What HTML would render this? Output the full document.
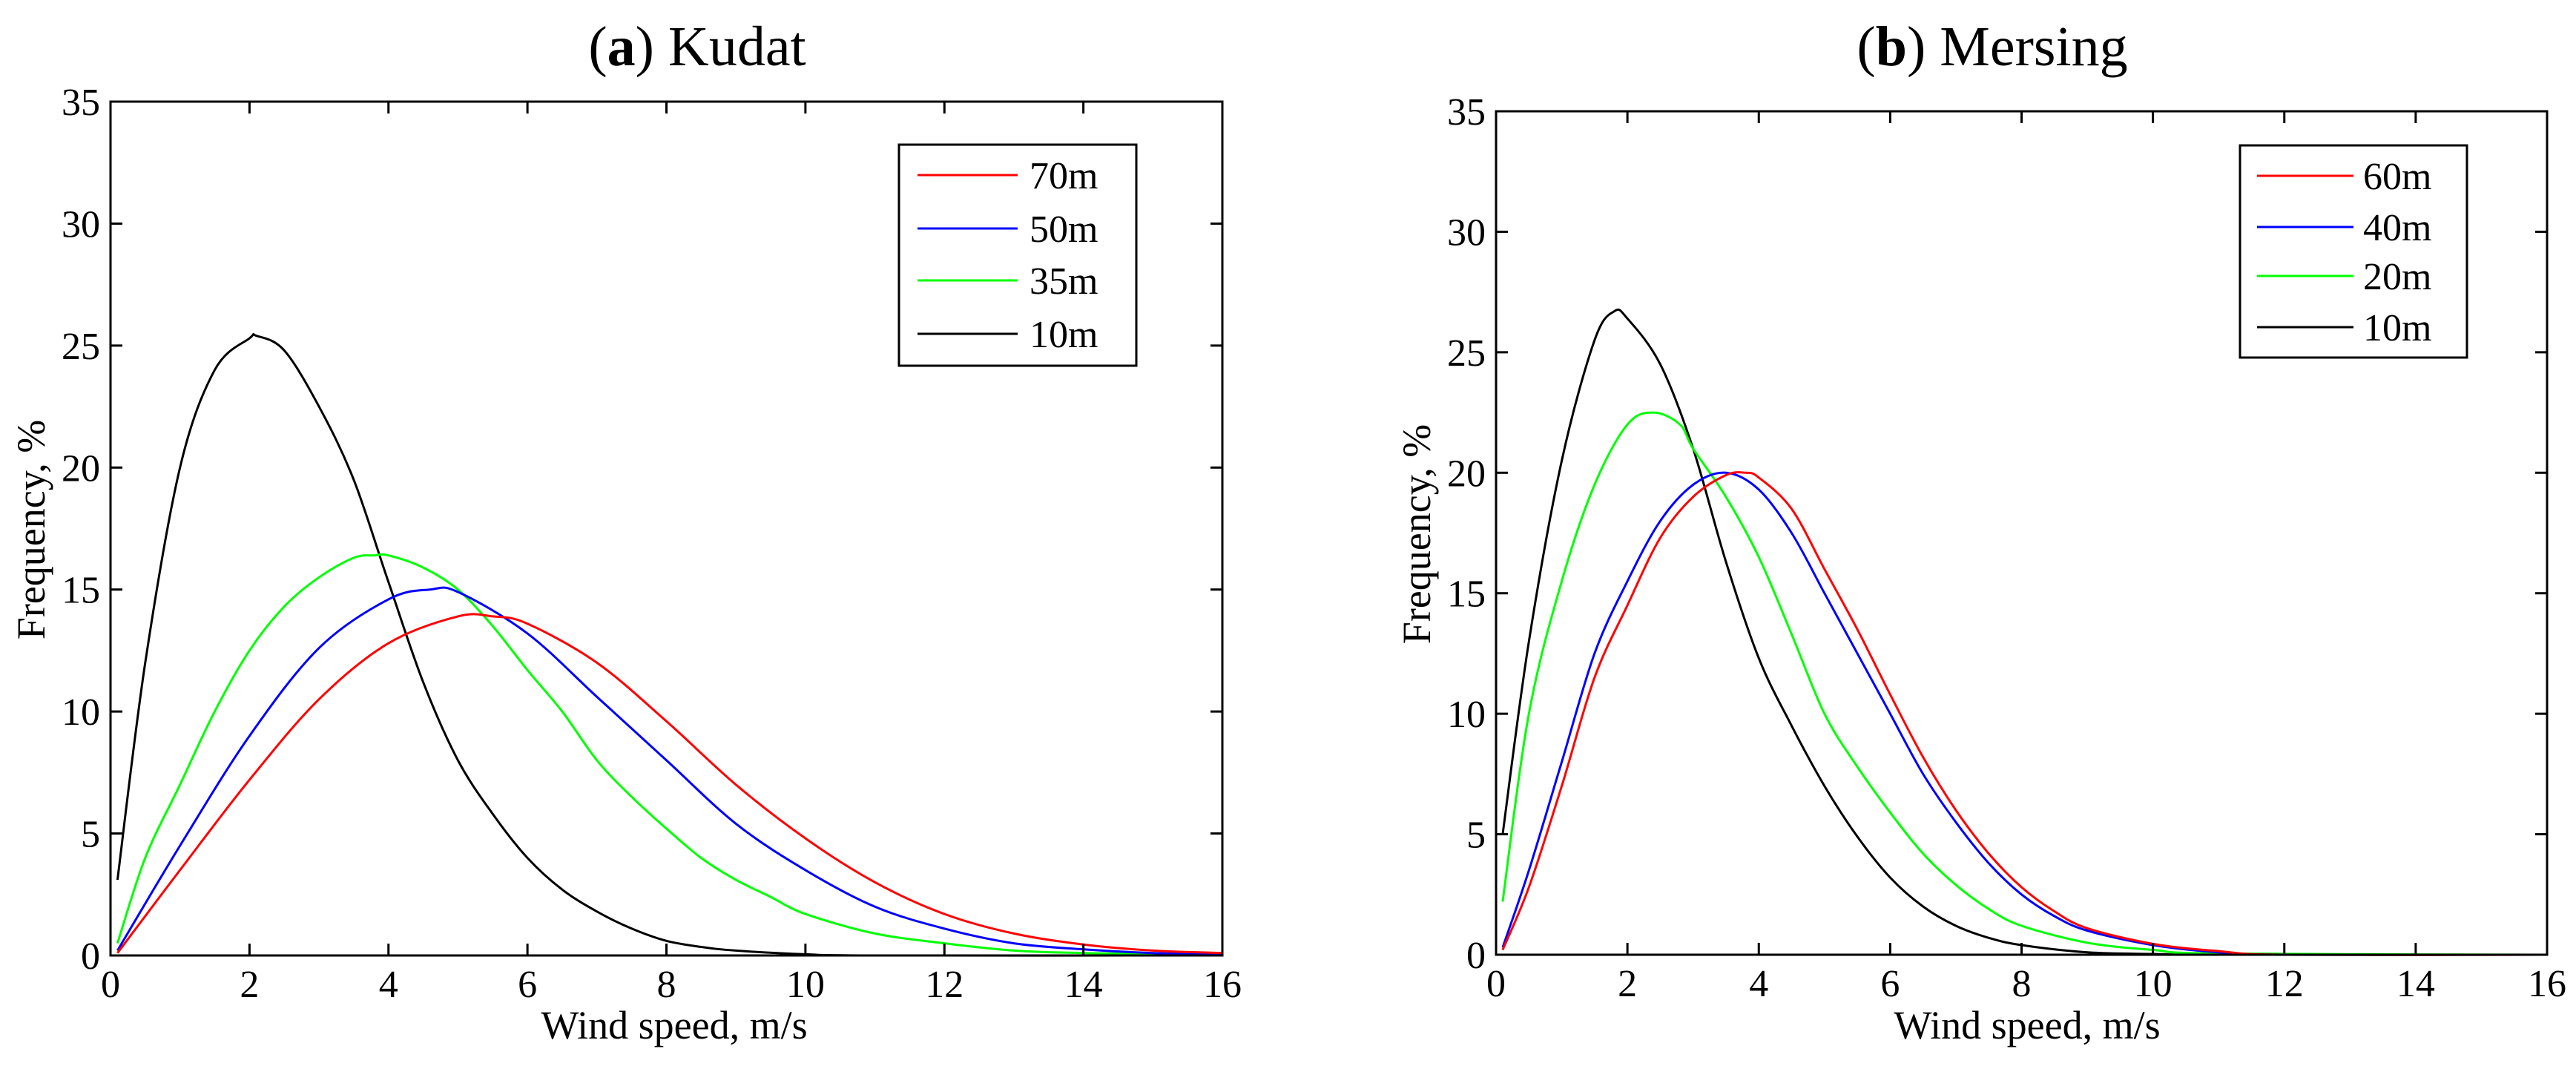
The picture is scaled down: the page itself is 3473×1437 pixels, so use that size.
<!DOCTYPE html>
<html><head><meta charset="utf-8">
<style>
html,body{margin:0;padding:0;background:#fff;}
svg{display:block;}
svg text{font-family:"Liberation Serif",serif;}
</style></head>
<body>
<svg id="fig" width="3473" height="1437" viewBox="0 0 3473 1437"></svg>
<script>
// ---------- Data (Kudat) ----------
const kudatX10 = [0.1,0.5,1,1.5,2,2.1,2.5,3,3.5,4,4.5,5,5.5,6,6.5,7,7.5,8,8.5,9,10,11,16];
const kudatY10 = [3.1,12,20,24,25.3,25.4,24.8,22.5,19.5,15.3,11.2,8,5.8,4,2.7,1.8,1.1,0.6,0.35,0.2,0.05,0,0];
const kudatX35 = [0.1,0.5,1,1.5,2,2.5,3,3.5,3.8,4,4.5,5,5.5,6,6.5,7,7.5,8,8.5,9,9.5,10,11,12,13,14,15,16];
const kudatY35 = [0.5,4,7,10,12.5,14.3,15.5,16.3,16.4,16.4,15.9,15,13.5,11.7,10,8,6.5,5.2,4,3.1,2.4,1.7,0.9,0.5,0.2,0.1,0.05,0];
const kudatX50 = [0.1,1,2,3,4,4.6,5,6,7,8,9,10,11,12,13,14,15,16];
const kudatY50 = [0.2,4.5,9,12.6,14.6,15,14.9,13.2,10.6,8,5.4,3.5,2,1.1,0.5,0.25,0.1,0.05];
const kudatX70 = [0.1,1,2,3,4,5,5.5,6,7,8,9,10,11,12,13,14,15,16];
const kudatY70 = [0.1,3.5,7.2,10.5,12.8,13.9,13.9,13.6,12,9.6,7,4.8,3,1.7,0.9,0.45,0.2,0.1];
// ---------- Data (Mersing) ----------
const mersX10 = [0.1,0.5,1,1.5,1.8,2,2.5,3,3.5,4,4.5,5,5.5,6,6.5,7,7.5,8,9,10,11,16];
const mersY10 = [5,13,20.5,25.5,26.7,26.4,24.5,21,16.3,12.3,9.5,7,4.9,3.2,2,1.2,0.7,0.4,0.1,0.03,0,0];
const mersX20 = [0.1,0.5,1,1.5,2,2.4,2.8,3,3.5,4,4.5,5,5.5,6,6.5,7,7.5,8,9,10,11,16];
const mersY20 = [2.2,10,15.5,19.5,22,22.5,22,21,19,16.5,13.3,10,7.8,5.9,4.2,2.9,1.9,1.2,0.5,0.2,0.05,0];
const mersX40 = [0.1,0.5,1,1.5,2,2.5,3,3.5,4,4.5,5,5.5,6,6.5,7,7.5,8,8.5,9,10,11,12,16];
const mersY40 = [0.3,3.5,8,12.5,15.5,18,19.5,20,19.3,17.5,15,12.5,10,7.5,5.5,3.8,2.5,1.6,1,0.4,0.1,0,0];
const mersX60 = [0.1,0.5,1,1.5,2,2.5,3,3.5,3.8,4,4.5,5,5.5,6,6.5,7,7.5,8,8.5,9,10,11,12,16];
const mersY60 = [0.2,2.8,7,11.5,14.5,17.3,19,19.9,20,19.8,18.5,16,13.5,10.8,8.2,6,4.2,2.8,1.8,1.1,0.45,0.15,0,0];
const xTicks = [0,2,4,6,8,10,12,14,16];
const yTicks = [0,5,10,15,20,25,30,35];
const kudatLabels = ["70m","50m","35m","10m"];
const mersLabels = ["60m","40m","20m","10m"];

const NS="http://www.w3.org/2000/svg";
const svg=document.getElementById('fig');
function mk(tag,attrs,parent){const e=document.createElementNS(NS,tag);for(const k in attrs)e.setAttribute(k,attrs[k]);(parent||svg).appendChild(e);return e;}

function smoothPath(P){
  let d='M'+P[0][0].toFixed(1)+','+P[0][1].toFixed(1);
  for(let i=0;i<P.length-1;i++){
    const p0=P[Math.max(0,i-1)],p1=P[i],p2=P[i+1],p3=P[Math.min(P.length-1,i+2)];
    const c1x=p1[0]+(p2[0]-p0[0])/6, c1y=p1[1]+(p2[1]-p0[1])/6;
    const c2x=p2[0]-(p3[0]-p1[0])/6, c2y=p2[1]-(p3[1]-p1[1])/6;
    d+=' C'+c1x.toFixed(1)+','+c1y.toFixed(1)+' '+c2x.toFixed(1)+','+c2y.toFixed(1)+' '+p2[0].toFixed(1)+','+p2[1].toFixed(1);
  }
  return d;
}

function panel(cfg){
  const g=mk('g',{});
  
  
  const sx=v=>cfg.x0+(v-0)/16*(cfg.x1-cfg.x0);
  const sy=v=>cfg.y1-(v/35)*(cfg.y1-cfg.y0);
  const F={'font-family':'Liberation Serif, serif'};
  cfg.series.forEach(s=>{
    const P=s.x.map((xv,i)=>[sx(xv),Math.min(cfg.y1,sy(s.y[i]))]);
    const p=mk('path',{d:smoothPath(P),fill:'none',stroke:s.color,'stroke-width':3,'stroke-linejoin':'round'},g);
    
    
  });
  const box=mk('rect',{x:cfg.x0,y:cfg.y0,width:cfg.x1-cfg.x0,height:cfg.y1-cfg.y0,fill:'none',stroke:'#000','stroke-width':3},g);
  
  
  xTicks.forEach(t=>{
    const x=sx(t);
    mk('line',{x1:x,y1:cfg.y1,x2:x,y2:cfg.y1-16,stroke:'#000','stroke-width':3},g);
    mk('line',{x1:x,y1:cfg.y0,x2:x,y2:cfg.y0+16,stroke:'#000','stroke-width':3},g);
    const tx=mk('text',Object.assign({x:x,y:cfg.y1+56,'font-size':52,'text-anchor':'middle'},F),g);
    tx.textContent=t;
    
    
  });
  yTicks.forEach(t=>{
    const y=sy(t);
    mk('line',{x1:cfg.x0,y1:y,x2:cfg.x0+16,y2:y,stroke:'#000','stroke-width':3},g);
    mk('line',{x1:cfg.x1,y1:y,x2:cfg.x1-16,y2:y,stroke:'#000','stroke-width':3},g);
    const tx=mk('text',Object.assign({x:cfg.x0-14,y:y+18,'font-size':52,'text-anchor':'end'},F),g);
    tx.textContent=t;
    
    
  });
  const L=cfg.legend;
  const lg=mk('g',{},g);
  
  
  mk('rect',{x:L.x0,y:L.y0,width:L.x1-L.x0,height:L.y1-L.y0,fill:'#fff',stroke:'#000','stroke-width':3},lg);
  cfg.legendOrder.forEach((s,i)=>{
    const y=L.rows[i];
    const ln=mk('line',{x1:L.lx0,y1:y,x2:L.lx1,y2:y,stroke:s.color,'stroke-width':3},lg);
    
    
    const t=mk('text',Object.assign({x:L.tx,y:y+18,'font-size':52},F),lg);
    t.textContent=s.label;
    
    
  });
  const ti=mk('text',Object.assign({x:cfg.titleX,y:88,'font-size':76,'text-anchor':'middle'},F),g);
  ti.innerHTML='(<tspan font-weight="bold">'+cfg.letter+'</tspan>) '+cfg.title;
  
  
  const xl=mk('text',Object.assign({x:cfg.xlabX,y:1400,'font-size':54,'text-anchor':'middle'},F),g);
  xl.textContent='Wind speed, m/s';
  
  
  const yl=mk('text',Object.assign({x:0,y:0,'font-size':54,'text-anchor':'middle',transform:'translate('+cfg.ylabX+','+cfg.ylabY+') rotate(-90)'},F),g);
  yl.textContent='Frequency, %';
  
  
}

const kS={red:{x:kudatX70,y:kudatY70,color:'#ff0000',label:kudatLabels[0]},blue:{x:kudatX50,y:kudatY50,color:'#0000ff',label:kudatLabels[1]},green:{x:kudatX35,y:kudatY35,color:'#00ff00',label:kudatLabels[2]},black:{x:kudatX10,y:kudatY10,color:'#000000',label:kudatLabels[3]}};
panel({name:'kudat-panel',x0:149,x1:1648,y0:137,y1:1288,letter:'a',title:'Kudat',titleX:940,xlabX:909,ylabX:60,ylabY:714,
  series:[kS.black,kS.green,kS.blue,kS.red],legendOrder:[kS.red,kS.blue,kS.green,kS.black],
  legend:{x0:1212,x1:1532,y0:195,y1:493,rows:[236,308,378,450],lx0:1237,lx1:1372,tx:1388}});
const mS={red:{x:mersX60,y:mersY60,color:'#ff0000',label:mersLabels[0]},blue:{x:mersX40,y:mersY40,color:'#0000ff',label:mersLabels[1]},green:{x:mersX20,y:mersY20,color:'#00ff00',label:mersLabels[2]},black:{x:mersX10,y:mersY10,color:'#000000',label:mersLabels[3]}};
panel({name:'mersing-panel',x0:2017,x1:3434,y0:150,y1:1287,letter:'b',title:'Mersing',titleX:2686,xlabX:2733,ylabX:1928,ylabY:720,
  series:[mS.black,mS.green,mS.blue,mS.red],legendOrder:[mS.red,mS.blue,mS.green,mS.black],
  legend:{x0:3020,x1:3326,y0:196,y1:482,rows:[237,306,372,441],lx0:3043,lx1:3173,tx:3186}});
</script>
</body></html>
